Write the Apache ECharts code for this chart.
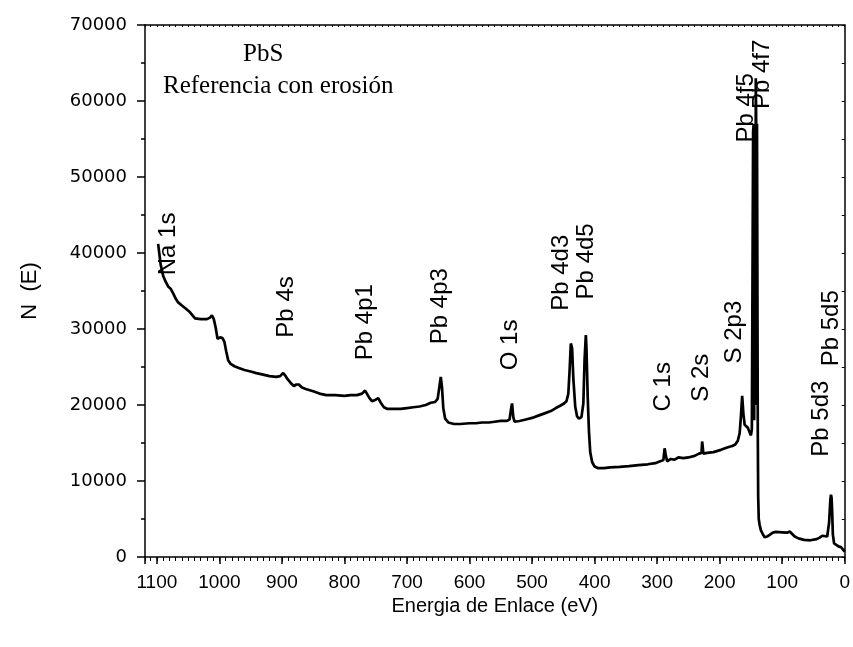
<!DOCTYPE html>
<html>
<head>
<meta charset="utf-8">
<script src="https://cdn.jsdelivr.net/npm/echarts@6/dist/echarts.min.js"></script>
<style>
  html, body { margin: 0; padding: 0; background: #fff; }
  #chart { width: 853px; height: 647px; }
</style>
</head>
<body>
<div id="chart"></div>
<script>
// espectro XPS - PbS referencia con erosion
var energy = [1098, 1094, 1090, 1087, 1082, 1078, 1074, 1070, 1066, 1060, 1054, 1047, 1042, 1039, 1030, 1020, 1015, 1012, 1009, 1006,
  1003, 999, 995, 992, 989, 986, 982, 976, 970, 960, 950, 941, 930, 920, 909, 903, 898, 895, 891, 886,
  881, 877, 873, 868, 862, 850, 840, 829, 815, 800, 790, 780, 772, 767, 764, 760, 756, 750, 746, 742,
  737, 732, 720, 710, 700, 690, 680, 670, 662, 655, 651, 648, 646, 644, 642, 639, 634, 625, 615, 600,
  590, 580, 569, 560, 550, 540, 536, 533, 532, 530, 528, 520, 510, 500, 490, 480, 470, 462, 455, 449,
  445, 442, 440, 438, 436, 434, 431, 428, 425, 421, 418, 416, 414, 413, 411, 409, 407, 404, 400, 395,
  385, 375, 360, 345, 330, 315, 303, 295, 290, 288, 286, 284, 278, 272, 266, 258, 250, 240, 233, 229,
  228, 226, 220, 210, 198, 188, 180, 175, 171, 168, 166, 164, 162, 160, 157, 155, 152, 150, 148.5, 147.5,
  146.5, 145.5, 144.8, 144.2, 143.5, 142.8, 142.2, 141.6, 141, 140.3, 139.6, 139, 138.4, 137.5, 136, 134, 131, 128, 124, 120,
  115, 110, 100, 92, 88, 85, 80, 74, 65, 55, 45, 40, 36, 33, 28, 25, 23, 22, 21, 20,
  19, 17, 14, 10, 6, 3, 0];
var counts = [41200, 38500, 37000, 36400, 35600, 35300, 34700, 34000, 33500, 33100, 32700, 32200, 31700, 31400, 31300, 31300, 31500, 31800, 31300, 30200,
  28700, 28900, 28800, 28300, 27000, 25900, 25400, 25100, 24900, 24600, 24400, 24200, 24000, 23800, 23700, 23800, 24200, 23900, 23400, 22900,
  22500, 22700, 22700, 22300, 22100, 21800, 21500, 21300, 21300, 21200, 21300, 21300, 21500, 21900, 21700, 20900, 20500, 20700, 20900, 20300,
  19700, 19500, 19500, 19500, 19600, 19700, 19800, 20000, 20300, 20400, 20800, 22500, 23700, 22300, 19600, 18200, 17700, 17500, 17500, 17600,
  17600, 17700, 17700, 17800, 17900, 17900, 18100, 19800, 20200, 18400, 17800, 17900, 18100, 18300, 18600, 18900, 19200, 19600, 19900, 20200,
  20500, 21500, 24500, 28100, 27500, 23500, 19800, 18500, 18200, 18400, 20200, 26000, 29200, 27500, 21000, 16500, 13800, 12500, 11900, 11700,
  11700, 11800, 11850, 11950, 12100, 12200, 12350, 12600, 12750, 14300, 13300, 12600, 12900, 12800, 13100, 13000, 13100, 13300, 13600, 13700,
  15200, 13600, 13700, 13800, 14100, 14400, 14600, 14800, 15300, 16300, 18500, 21200, 18800, 17400, 17600, 17000, 16800, 16000, 16800, 17000,
  56000, 57000, 18000, 57000, 57000, 20000, 63000, 57000, 20000, 57000, 57000, 16000, 8000, 5000, 4200, 3500, 3000, 2600, 2700, 2900,
  3200, 3300, 3250, 3200, 3350, 3250, 2700, 2450, 2250, 2200, 2350, 2550, 2800, 2700, 2700, 4500, 7500, 8200, 7800, 5800,
  3000, 1800, 1600, 1400, 1300, 1000, 700];

// etiquetas de picos
var peakNames = ['Na 1s', 'Pb 4s', 'Pb 4p1', 'Pb 4p3', 'O 1s', 'Pb 4d3', 'Pb 4d5', 'C 1s', 'S 2s', 'S 2p3', 'Pb 4f5', 'Pb 4f7', 'Pb 5d3', 'Pb 5d5'];
var peakLabelX = [1081, 893, 767, 646, 534, 453, 413, 290, 230, 177, 157, 131, 37, 21];
var peakLabelY = [41200, 32900, 30900, 33000, 27900, 37400, 38900, 22400, 23600, 29600, 59100, 63500, 18200, 30100];

var xTicks = [0, 100, 200, 300, 400, 500, 600, 700, 800, 900, 1000, 1100];
var yTicks = [0, 10000, 20000, 30000, 40000, 50000, 60000, 70000];

var spectrum = energy.map(function (e, i) { return [e, counts[i]]; });
var peaks = peakNames.map(function (n, i) { return { name: n, value: [peakLabelX[i], peakLabelY[i]] }; });

var chart = echarts.init(document.getElementById('chart'));
var xMax = 1119;

var option = {
  animation: false,
  grid: { left: 145, right: 6, top: 25, bottom: 90 },
  graphic: [
    { type: 'text', left: 243, top: 42, style: { text: 'PbS', font: '25px "Liberation Serif", "Times New Roman", serif', fill: '#000' } },
    { type: 'text', left: 163, top: 74, style: { text: 'Referencia con erosión', font: '25px "Liberation Serif", "Times New Roman", serif', fill: '#000' } }
  ],
  xAxis: [
    {
      type: 'value', min: 0, max: xMax, interval: 100, inverse: true, position: 'bottom',
      name: 'Energia de Enlace (eV)', nameLocation: 'middle', nameGap: 38,
      nameTextStyle: { fontFamily: '"Liberation Sans", Arial, sans-serif', fontSize: 20, color: '#000' },
      axisLine: { onZero: false, lineStyle: { color: '#000', width: 1.5 } },
      axisTick: { inside: false, length: 7, lineStyle: { color: '#000', width: 1.5 } },
      axisLabel: {
        margin: 16, color: '#000', fontSize: 19,
        fontFamily: '"Liberation Sans Narrow", "Arial Narrow", "Liberation Sans", sans-serif',
        formatter: function (v) { return xTicks.indexOf(v) >= 0 ? String(v) : ''; }
      },
      splitLine: { show: false }
    },
    {
      type: 'value', min: 0, max: xMax, interval: 10, inverse: true, position: 'bottom',
      axisLine: { show: false },
      axisTick: { inside: false, length: 4, lineStyle: { color: '#000', width: 1 } },
      axisLabel: { show: false },
      splitLine: { show: false }
    },
    {
      type: 'value', min: 0, max: xMax, interval: 10, inverse: true, position: 'top',
      axisLine: { onZero: false, lineStyle: { color: '#000', width: 1.5 } },
      axisTick: { inside: true, length: 2, lineStyle: { color: '#000', width: 1 } },
      axisLabel: { show: false },
      splitLine: { show: false }
    }
  ],
  yAxis: [
    {
      type: 'value', min: 0, max: 70000, interval: 10000, position: 'left',
      name: 'N  (E)', nameLocation: 'middle', nameGap: 104, nameRotate: 90,
      nameTextStyle: { fontFamily: '"Liberation Sans", Arial, sans-serif', fontSize: 22, color: '#000' },
      axisLine: { onZero: false, lineStyle: { color: '#000', width: 1.5 } },
      axisTick: { inside: false, length: 8, lineStyle: { color: '#000', width: 1.5 } },
      minorTick: { show: true, splitNumber: 2, length: 4, lineStyle: { color: '#000', width: 1.5 } },
      axisLabel: {
        margin: 18, color: '#000', fontSize: 18,
        fontFamily: '"DejaVu Sans", sans-serif',
        formatter: function (v) { return yTicks.indexOf(v) >= 0 ? String(v) : ''; }
      },
      splitLine: { show: false }
    },
    {
      type: 'value', min: 0, max: 70000, interval: 5000, position: 'right',
      axisLine: { onZero: false, lineStyle: { color: '#000', width: 1.5 } },
      axisTick: { inside: true, length: 3, lineStyle: { color: '#000', width: 1 } },
      axisLabel: { show: false },
      splitLine: { show: false }
    }
  ],
  series: [
    {
      type: 'line',
      data: spectrum,
      showSymbol: false,
      symbol: 'none',
      lineStyle: { color: '#000', width: 2.7 },
      silent: true
    },
    {
      type: 'scatter',
      data: peaks,
      symbolSize: 0,
      silent: true,
      label: {
        show: true,
        position: 'inside',
        rotate: 90,
        align: 'center',
        verticalAlign: 'middle',
        formatter: '{b}',
        color: '#000',
        opacity: 1,
        fontSize: 24,
        fontFamily: '"Liberation Sans", Arial, sans-serif'
      }
    }
  ]
};

chart.setOption(option);
</script>
</body>
</html>
